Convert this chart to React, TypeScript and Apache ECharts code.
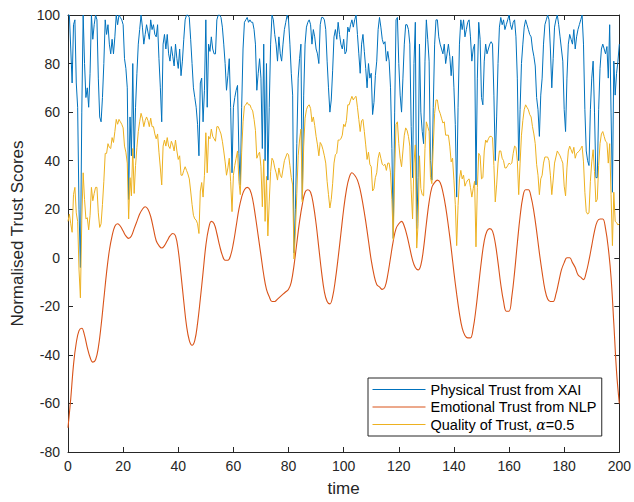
import React, { useEffect, useRef } from "react";
import * as echarts from "echarts";

const seriesNames = [
  "Physical Trust from XAI",
  "Emotional Trust from NLP",
  "Quality of Trust, α=0.5",
];
const seriesColors = ["#0072BD", "#D95319", "#EDB120"];

// sampled every 0.5 time units, t = 0 .. 200
const physicalTrust = [
  100,100,86,72,96,98,72,62,20,-4,
  60,100,80,66,70,62,76,100,90,96,
  100,98,74,58,56,66,80,98,92,96,
  88,84,90,84,91,100,96,100,99,98,
  96,82,78,70,24,58,42,80,41,62,
  76,88,94,100,95,88,92,96,93,90,
  98,94,96,92,91,96,82,70,56,88,
  92,86,92,84,81,87,83,79,88,82,
  78,86,75,81,90,98,100,100,99,90,
  80,70,66,62,55,42,72,74,56,69,
  98,62,88,85,91,86,84,84,98,100,
  100,99,95,88,80,69,75,82,62,35,
  62,66,69,71,43,30,62,86,97,98,
  99,97,98,97,97,94,88,69,76,82,
  74,45,88,40,80,32,62,88,100,98,
  92,88,81,91,84,81,88,94,97,100,
  98,88,76,67,2,20,47,74,82,88,
  24,67,88,95,97,98,96,88,94,91,
  86,84,80,96,99,99,98,94,81,70,
  60,65,77,91,94,90,97,92,88,86,
  90,84,85,95,93,96,98,95,98,100,
  92,84,76,88,92,85,78,70,80,74,
  76,59,64,75,81,94,99,95,90,88,
  89,81,85,81,70,45,8,60,98,99,
  80,67,60,74,88,96,96,94,88,54,
  33,80,97,12,33,88,60,52,47,81,
  98,90,81,40,32,62,88,98,98,91,
  88,86,84,88,80,84,88,83,75,83,
  70,55,25,62,88,98,94,98,91,94,
  97,98,91,81,86,88,30,74,97,90,
  66,63,81,88,84,86,88,89,88,67,
  40,58,80,95,99,96,98,94,96,98,
  100,96,94,97,98,91,74,40,61,80,
  88,95,98,96,94,92,91,86,83,79,
  66,61,50,67,74,88,96,98,100,98,
  86,70,82,95,98,100,96,91,86,81,
  61,52,74,88,92,90,88,94,86,91,
  94,96,98,100,88,61,44,40,38,61,
  74,81,60,33,33,61,78,86,88,86,
  84,87,74,96,60,27,81,67,76,81,
  88,
];

// sampled every 1 time unit, t = 0 .. 200
const emotionalTrust = [
  -70,-58,-44,-35,-30,-29,-32,-37,-41,-43,
  -42,-37,-28,-17,-6,3,9,13,14,13,
  11,9,8,9,12,15,18,20,21,20,
  17,12,7,5,4,5,7,9,10,9,
  3,-7,-18,-28,-34,-36,-34,-27,-17,-6,
  5,12,15,14,10,5,1,-1,-1,1,
  6,13,20,25,28,29,28,24,17,9,
  1,-7,-13,-16,-18,-18,-17,-16,-15,-14,
  -13,-10,-3,6,15,22,27,28,27,22,
  14,4,-6,-14,-18,-19,-16,-9,0,10,
  20,28,33,35,34,32,28,22,15,7,
  -1,-7,-11,-12,-13,-12,-7,0,7,12,
  14,15,13,9,4,-1,-4,-5,-3,4,
  14,23,29,31,32,31,27,21,13,4,
  -6,-15,-23,-29,-32,-33,-33,-29,-21,-11,
  -1,7,11,12,11,6,-2,-11,-18,-22,
  -22,-16,-6,6,17,25,28,28,25,19,
  11,2,-6,-13,-17,-18,-18,-15,-10,-5,
  -2,0,0,-2,-4,-7,-8,-9,-6,-1,
  5,11,15,16,16,12,4,-8,-27,-47,
  -60,
];

// sampled every 0.5 time units, t = 0 .. 200
const qualityTrust = [
  15,18,14,10.5,26,29,18.5,15,-5,-16.5,
  15.5,35,24,16,16.5,11.5,17.5,29,23.5,26.5,
  29,29,18.5,12.5,14,22,31.5,43,43,47,
  45.5,45,49.5,47.5,52,57,55,57,56,55,
  53.5,46,43.5,39,16,33,25.5,45,26.5,38,
  45.5,52,56,59.5,57.5,54,56.5,58,56.5,54,
  57.5,54,54,51,49,51,43.5,37,30,46,
  48.5,46,49.5,46,45,48,46.5,44,48.5,44,
  40.5,42,34,34,36,37.5,36,34.5,32.5,27.5,
  22,17.5,16,15.5,14,10,27.5,31,25,34,
  51.5,35,50,49,53,50,49,48,54,54,
  52.5,51,48,44,39.5,34,37,41,31.5,19,
  34,38,41,44,31.5,26,43.5,56,62.5,63,
  64,63,63,61.5,60.5,57,52.5,41,42.5,43.5,
  37.5,21,40.5,15,33.5,9,23,35.5,41,40,
  37,35,32,37,34,33,36.5,40,41.5,43,
  42.5,38,33,30,-0.5,11,26.5,42,48.5,53,
  23,46,57.5,61,62.5,63,61.5,56,58,54.5,
  50,46.5,42,47.5,46.5,44.5,42,39,31.5,26,
  20.5,24,30.5,39,42.5,43,48.5,48.5,49,50.5,
  55,54,56.5,63,63,65,66.5,65,66,66.5,
  62,57,52,56.5,57,52,46.5,40.5,43.5,38.5,
  37.5,27.5,28.5,33,35,41,43.5,41,38.5,38,
  38.5,36,39,39,35,24,7.5,35,55,56,
  47,41,37.5,44,50.5,53.5,52.5,50,46,28,
  16,39,46.5,4,14,42,28.5,26,25.5,45,
  56,54,52,33,30.5,46,59.5,65,65,61,
  59.5,57.5,55.5,56,50.5,50.5,50.5,46,39.5,41,
  32,22,5,21.5,32.5,36,32.5,34,29.5,31,
  32,32.5,29,25,28.5,31.5,4.5,29,43,42,
  32.5,33,44,48.5,47.5,49,50,50,49.5,38,
  23,30,39,44,44,41,40,37,37,38,
  39,38.5,39,43,46,45.5,40,26,39,50.5,
  56.5,61,63,62,61,59,58,54,51,47,
  38.5,34,26,32.5,34,39,41.5,41.5,41.5,40,
  34,26,32,39,41.5,44,43,42,40.5,39,
  29.5,25.5,37,44,46,44.5,43,45.5,41,43,
  43.5,44,45,46,39.5,27,19,18,18.5,31.5,
  39.5,44.5,35.5,23,24,38,47,51,52,50,
  48,47.5,39,47,26,5,27,15,14.5,13.5,
  14,
];

const X_MIN = 0, X_MAX = 200, X_STEP = 20;
const Y_MIN = -80, Y_MAX = 100, Y_STEP = 20;

const FONT = "'Liberation Sans', Arial, Helvetica, sans-serif";
const AXIS_COLOR = "#262626";

export default function App() {
  const ref = useRef<HTMLDivElement>(null);

  useEffect(() => {
    document.body.style.margin = "0";
    if (!ref.current) return;
    const chart = echarts.init(ref.current, null, { renderer: "svg" });

    const fineTime = physicalTrust.map((_, i) => i * 0.5);
    const coarseTime = emotionalTrust.map((_, i) => i);

    const axisLine = { show: true, onZero: false, lineStyle: { color: AXIS_COLOR, width: 1 } };
    const axisTick = { show: true, inside: true, length: 5, lineStyle: { color: AXIS_COLOR, width: 1 } };

    chart.setOption({
      animation: false,
      backgroundColor: "#ffffff",
      grid: { left: 68, right: 13, top: 15, bottom: 50, containLabel: false },
      xAxis: [
        {
          type: "value", min: X_MIN, max: X_MAX, interval: X_STEP, position: "bottom",
          axisLine, axisTick,
          axisLabel: { color: AXIS_COLOR, fontSize: 14, fontFamily: FONT, margin: 7 },
          splitLine: { show: false },
          name: "time", nameLocation: "middle", nameGap: 28,
          nameTextStyle: { color: AXIS_COLOR, fontSize: 17, fontFamily: FONT },
        },
        {
          type: "value", min: X_MIN, max: X_MAX, interval: X_STEP, position: "top",
          axisLine, axisTick, axisLabel: { show: false }, splitLine: { show: false },
        },
      ],
      yAxis: [
        {
          type: "value", min: Y_MIN, max: Y_MAX, interval: Y_STEP, position: "left",
          axisLine, axisTick,
          axisLabel: { color: AXIS_COLOR, fontSize: 14, fontFamily: FONT, margin: 8 },
          splitLine: { show: false },
          name: "Normalised Trust Scores", nameLocation: "middle", nameGap: 42, nameRotate: 90,
          nameTextStyle: { color: AXIS_COLOR, fontSize: 17, fontFamily: FONT },
        },
        {
          type: "value", min: Y_MIN, max: Y_MAX, interval: Y_STEP, position: "right",
          axisLine, axisTick, axisLabel: { show: false }, splitLine: { show: false },
        },
      ],
      legend: {
        show: true,
        orient: "vertical",
        left: 368,
        top: 378,
        itemWidth: 53,
        itemHeight: 14,
        itemGap: 2.5,
        padding: [4, 5, 4, 4],
        backgroundColor: "#ffffff",
        borderColor: AXIS_COLOR,
        borderWidth: 1,
        borderRadius: 0,
        itemStyle: { opacity: 0, borderWidth: 0 },
        lineStyle: { width: 1 },
        data: seriesNames,
        formatter: (name: string) =>
          name === seriesNames[2] ? "Quality of Trust, {a|α}=0.5" : name,
        textStyle: {
          color: "#000000",
          fontSize: 14.5,
          fontFamily: FONT,
          rich: {
            a: { fontFamily: "'DejaVu Serif', serif", fontStyle: "italic", fontSize: 14, color: "#000000" },
          },
        },
      },
      series: [
        {
          name: seriesNames[0], type: "line", xAxisIndex: 0, yAxisIndex: 0,
          data: fineTime.map((t, i) => [t, physicalTrust[i]]),
          showSymbol: false, symbol: "none",
          lineStyle: { width: 1, color: seriesColors[0] },
          itemStyle: { color: seriesColors[0] },
          z: 2,
        },
        {
          name: seriesNames[1], type: "line", xAxisIndex: 0, yAxisIndex: 0,
          data: coarseTime.map((t, i) => [t, emotionalTrust[i]]),
          showSymbol: false, symbol: "none", smooth: 0.4,
          lineStyle: { width: 1.1, color: seriesColors[1] },
          itemStyle: { color: seriesColors[1] },
          z: 3,
        },
        {
          name: seriesNames[2], type: "line", xAxisIndex: 0, yAxisIndex: 0,
          data: fineTime.map((t, i) => [t, qualityTrust[i]]),
          showSymbol: false, symbol: "none",
          lineStyle: { width: 1, color: seriesColors[2] },
          itemStyle: { color: seriesColors[2] },
          z: 4,
        },
      ],
    });

    return () => chart.dispose();
  }, []);

  return <div ref={ref} style={{ width: 634, height: 502 }} />;
}
